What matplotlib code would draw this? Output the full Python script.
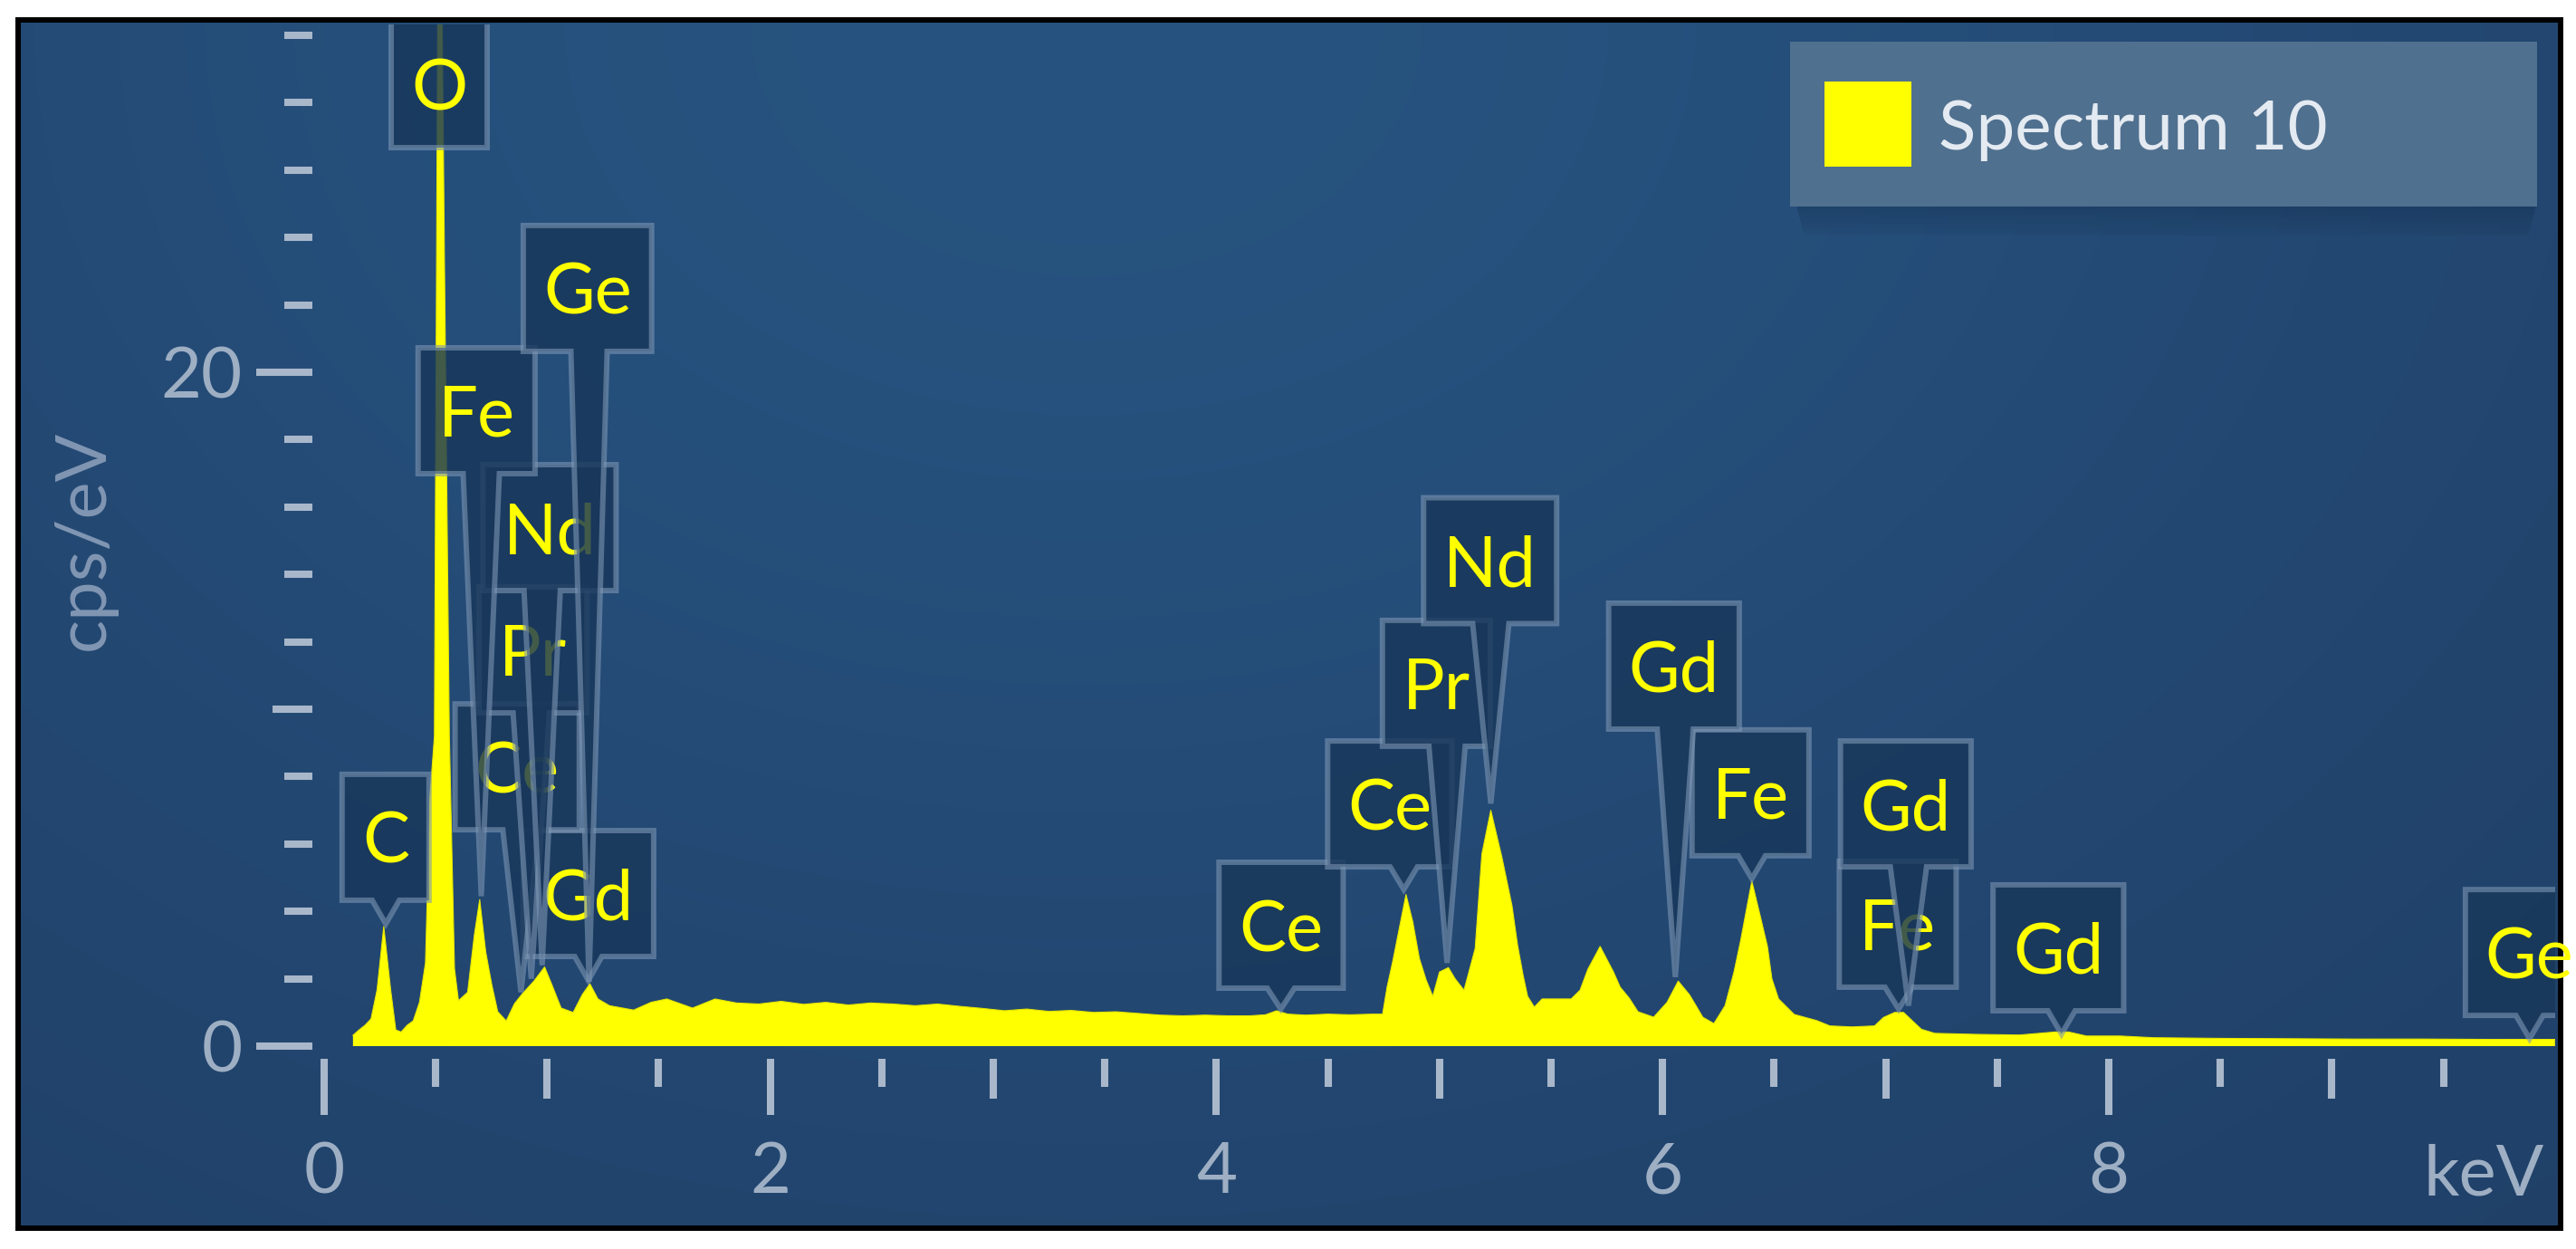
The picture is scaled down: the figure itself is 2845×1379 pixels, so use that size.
import numpy as np
import matplotlib
matplotlib.use("Agg")
import matplotlib.pyplot as plt
from matplotlib.patches import Polygon, Rectangle
from matplotlib.ticker import FixedLocator, FixedFormatter

plt.rcParams['font.family'] = ['Lato', 'DejaVu Sans']

# ---------------- data ----------------
energy_low = [0.13, 0.157, 0.184, 0.211, 0.238, 0.268, 0.299, 0.322, 0.346, 0.373, 0.40, 0.428, 0.455,
              0.475, 0.495, 0.516, 0.54, 0.562, 0.585, 0.603, 0.644, 0.674, 0.698, 0.725, 0.752, 0.779,
              0.817, 0.854, 0.89, 0.941, 0.989, 1.023, 1.063, 1.117, 1.158, 1.192, 1.228, 1.28, 1.388,
              1.466, 1.537, 1.652, 1.753]
counts_low = [0.32, 0.48, 0.62, 0.81, 1.67, 3.55, 1.67, 0.48, 0.42, 0.62, 0.75, 1.3, 2.47,
              7.4, 9.2, 40.0, 23.4, 9.2, 2.3, 1.35, 1.6, 3.3, 4.35, 2.8, 1.83, 1.02,
              0.75, 1.26, 1.56, 1.93, 2.35, 1.8, 1.13, 1.0, 1.53, 1.85, 1.4, 1.2, 1.07,
              1.3, 1.4, 1.13, 1.4]

energy_bg = [1.85, 1.95, 2.05, 2.15, 2.25, 2.35, 2.45, 2.55, 2.65, 2.75, 2.85, 2.95, 3.05, 3.15,
             3.25, 3.35, 3.45, 3.55, 3.65, 3.75, 3.85, 3.95, 4.05, 4.15, 4.22, 4.27, 4.32, 4.4,
             4.5, 4.6, 4.7, 4.745]
counts_bg = [1.28, 1.25, 1.33, 1.24, 1.3, 1.22, 1.28, 1.25, 1.2, 1.25, 1.18, 1.12, 1.05, 1.1,
             1.03, 1.06, 1.0, 1.02, 0.97, 0.92, 0.9, 0.92, 0.9, 0.9, 0.93, 1.05, 0.95, 0.92,
             0.95, 0.93, 0.95, 0.95]

energy_mid = [4.765, 4.79, 4.82, 4.85, 4.88, 4.91, 4.94, 4.97, 5.0, 5.04, 5.07, 5.11, 5.16, 5.19,
              5.23, 5.28, 5.325, 5.35, 5.375, 5.395, 5.425, 5.46, 5.53, 5.59, 5.63, 5.665, 5.72,
              5.78, 5.81, 5.85, 5.89, 5.96, 6.02, 6.07, 6.12, 6.15, 6.18, 6.23, 6.28, 6.32, 6.35,
              6.40, 6.44, 6.47, 6.49, 6.52, 6.59]
counts_mid = [1.75, 2.5, 3.5, 4.5, 3.7, 2.6, 1.97, 1.48, 2.2, 2.33, 2.0, 1.66, 2.9, 5.7,
              7.0, 5.6, 4.17, 3.0, 2.1, 1.48, 1.16, 1.4, 1.4, 1.4, 1.66, 2.28, 2.96,
              2.2, 1.75, 1.43, 1.02, 0.86, 1.3, 1.93, 1.53, 1.2, 0.86, 0.67, 1.2, 2.2, 3.14,
              4.9, 3.8, 2.96, 2.0, 1.4, 0.94]

energy_high = [6.69, 6.75, 6.85, 6.95, 6.99, 7.04, 7.08, 7.12, 7.16, 7.22, 7.4, 7.6, 7.76, 7.82,
               7.9, 8.05, 8.2, 8.5, 8.8, 9.1, 9.4, 9.7, 10.0]
counts_high = [0.76, 0.6, 0.57, 0.6, 0.85, 1.0, 1.0, 0.75, 0.5, 0.38, 0.35, 0.33, 0.42, 0.42,
               0.3, 0.3, 0.25, 0.23, 0.22, 0.21, 0.21, 0.2, 0.2]

# element line labels: text, line energy (keV), height where the pointer ends (cps)
label_text = ["O", "C", "Ge", "Fe", "Nd", "Pr", "Ce", "Gd",
              "Ce", "Ce", "Pr", "Nd", "Gd", "Fe", "Gd", "Fe", "Gd", "Ge"]
label_kev = [0.525, 0.277, 1.188, 0.705, 0.978, 0.929, 0.883, 1.185,
             4.289, 4.840, 5.034, 5.230, 6.057, 6.400, 7.102, 7.058, 7.788, 9.886]
label_tip_cps = [np.nan, 3.63, 1.9, 4.45, 2.4, 2.0, 1.6, 1.95,
                 1.1, 4.65, 2.47, 7.2, 2.05, 4.97, 1.2, 1.1, 0.36, 0.22]

# label box layout (centre in keV, bottom edge in cps)
box_center_kev = [0.518, 0.276, 1.181, 0.684, 1.011, 0.937, 0.866, 1.185,
                  4.29, 4.777, 4.986, 5.227, 6.051, 6.394, 7.09, 7.054, 7.774, 9.886]
box_bottom_cps = [26.67, 4.33, 20.62, 16.99, 13.52, 9.89, 6.42, 2.66,
                  1.72, 5.32, 8.9, 12.54, 9.41, 5.65, 5.32, 1.75, 1.05, 0.91]

x_major = [0, 1, 2, 3, 4, 5, 6, 7, 8, 9]
x_major_labels = ["0", "", "2", "", "4", "", "6", "", "8", ""]
x_minor = [0.5, 1.5, 2.5, 3.5, 4.5, 5.5, 6.5, 7.5, 8.5, 9.5]
y_major = [0, 10, 20]
y_major_labels = ["0", "", "20"]
y_minor = [2, 4, 6, 8, 12, 14, 16, 18, 22, 24, 26, 28, 30]

series_name = "Spectrum 10"
x_unit = "keV"
y_unit = "cps/eV"

# ---------------- figure ----------------
W, H = 2845, 1379
fig = plt.figure(figsize=(W / 100, H / 100), dpi=100)
fig.patch.set_facecolor('white')


def fx(px):
    return px / W


def fy(py):
    return 1 - py / H


# background panel with soft gradient and black frame
bg = fig.add_axes([fx(20), fy(1356), fx(2828) - fx(20), fy(22) - fy(1356)])
bg.set_xlim(0, 1)
bg.set_ylim(0, 1)
ny, nx = 140, 280
yy, xx = np.mgrid[0:1:ny * 1j, 0:1:nx * 1j]
t = np.exp(-(((xx - 0.42) / 0.6) ** 2 + ((yy - 0.0) / 0.95) ** 2))
edge = np.array([31, 62, 101]) / 255
centre = np.array([39, 83, 128]) / 255
img = edge + (centre - edge) * t[..., None]
bg.imshow(img, extent=[0, 1, 0, 1], origin='upper', aspect='auto', interpolation='bicubic')
bg.set_xticks([])
bg.set_yticks([])
for s in bg.spines.values():
    s.set_linewidth(4.3)
    s.set_color('black')

# main data axes
PX_PER_KEV = 246.4
PX_PER_CPS = 37.2
x0_px, y0_px = 357.8, 1155
ytop = (y0_px - 27) / PX_PER_CPS
ax = fig.add_axes([fx(x0_px), fy(y0_px), fx(x0_px + 10 * PX_PER_KEV) - fx(x0_px), fy(27) - fy(y0_px)])
ax.set_xlim(0, 10)
ax.set_ylim(0, ytop)
ax.patch.set_alpha(0)
for s in ['top', 'right']:
    ax.spines[s].set_visible(False)
ax.spines['left'].set_position(('outward', 12.8 * 0.72))
ax.spines['bottom'].set_position(('outward', 14 * 0.72))
ax.spines['left'].set_color('none')
ax.spines['bottom'].set_color('none')

tick_col = '#a9b7ca'
lab_col = '#9eafc4'
LONG, MED, SHORT = 44.6, 31.7, 22.3
ax.xaxis.set_major_locator(FixedLocator(x_major))
ax.xaxis.set_major_formatter(FixedFormatter(x_major_labels))
ax.xaxis.set_minor_locator(FixedLocator(x_minor))
ax.yaxis.set_major_locator(FixedLocator(y_major))
ax.yaxis.set_major_formatter(FixedFormatter(y_major_labels))
ax.yaxis.set_minor_locator(FixedLocator(y_minor))
ax.tick_params(axis='both', which='both', direction='out', color=tick_col, width=5.8,
               labelcolor=lab_col, labelsize=56)
ax.tick_params(axis='x', which='major', length=LONG, pad=21)
ax.tick_params(axis='y', which='major', length=LONG, pad=11)
ax.tick_params(axis='both', which='minor', length=SHORT)
for tick, v in zip(ax.xaxis.get_major_ticks(), x_major):
    if v % 2 == 1:
        tick.tick1line.set_markersize(MED)
for tick, v in zip(ax.yaxis.get_major_ticks(), y_major):
    if v % 20 != 0:
        tick.tick1line.set_markersize(MED)

fig.text(fx(2810), fy(1319), x_unit, ha='right', va='baseline', fontsize=56, color=lab_col)
fig.text(fx(93), fy(596), y_unit, rotation=90, ha='center', va='center', fontsize=56, color='#8196b3')

# spectrum
energy = np.concatenate([energy_low, energy_bg, energy_mid, energy_high])
counts = np.concatenate([counts_low, counts_bg, counts_mid, counts_high])
ax.fill_between(energy, counts, 0, color='#ffff00', lw=0, zorder=2)
ax.plot(energy, counts, color='#e6e600', lw=0.8, zorder=2)

# element callouts
renderer = fig.canvas.get_renderer()
box_h = 139 / PX_PER_CPS
kev_px = 1 / PX_PER_KEV
order = np.argsort(box_bottom_cps)
for k, i in enumerate(order):
    z = 5 + k
    xb, yb = box_center_kev[i], box_bottom_cps[i]
    txt = ax.text(xb, yb + box_h / 2 - 28.5 / PX_PER_CPS, label_text[i], ha='center', va='baseline',
                  fontsize=56, color='#ffff00', zorder=z + 0.5)
    txt.set_clip_box(ax.bbox)
    wpx = txt.get_window_extent(renderer).width
    half = (wpx / 2 + 22) * kev_px
    xl, xr, yt = xb - half, xb + half, yb + box_h
    xt, ytip = label_kev[i], label_tip_cps[i]
    if np.isnan(ytip):
        verts = [(xl, yt), (xr, yt), (xr, yb), (xl, yb)]
    else:
        depth = (yb - ytip) * PX_PER_CPS
        nw = (15 if depth < 45 else 20) * kev_px
        nxc = min(max(xt, xl + nw), xr - nw)
        verts = [(xl, yt), (xr, yt), (xr, yb), (nxc + nw, yb), (xt, ytip), (nxc - nw, yb), (xl, yb)]
    poly = Polygon(verts, closed=True, facecolor=(24 / 255, 55 / 255, 90 / 255, 0.82),
                   edgecolor=(125 / 255, 150 / 255, 180 / 255, 0.6), lw=4.3, joinstyle='miter', zorder=z)
    ax.add_patch(poly)

# legend
for j in range(8):
    fig.add_artist(Rectangle((fx(1985 + j), fy(232 + 4 * j)), fx(2800 - j) - fx(1985 + j), 4 / H,
                             transform=fig.transFigure, facecolor='#0f2744', alpha=0.28 - 0.03 * j,
                             edgecolor='none', zorder=3))
fig.add_artist(Rectangle((fx(1977), fy(228)), fx(2802) - fx(1977), fy(46) - fy(228),
                         transform=fig.transFigure, facecolor='#50708f', edgecolor='none', zorder=4))
fig.add_artist(Rectangle((fx(2014.5), fy(184)), fx(2111) - fx(2014.5), fy(90) - fy(184),
                         transform=fig.transFigure, facecolor='#ffff00', edgecolor='none', zorder=5))
fig.text(fx(2141), fy(165), series_name, ha='left', va='baseline', fontsize=55, color='#e4eaf1', zorder=6)

fig.savefig('out.png', dpi=100, facecolor='white')
